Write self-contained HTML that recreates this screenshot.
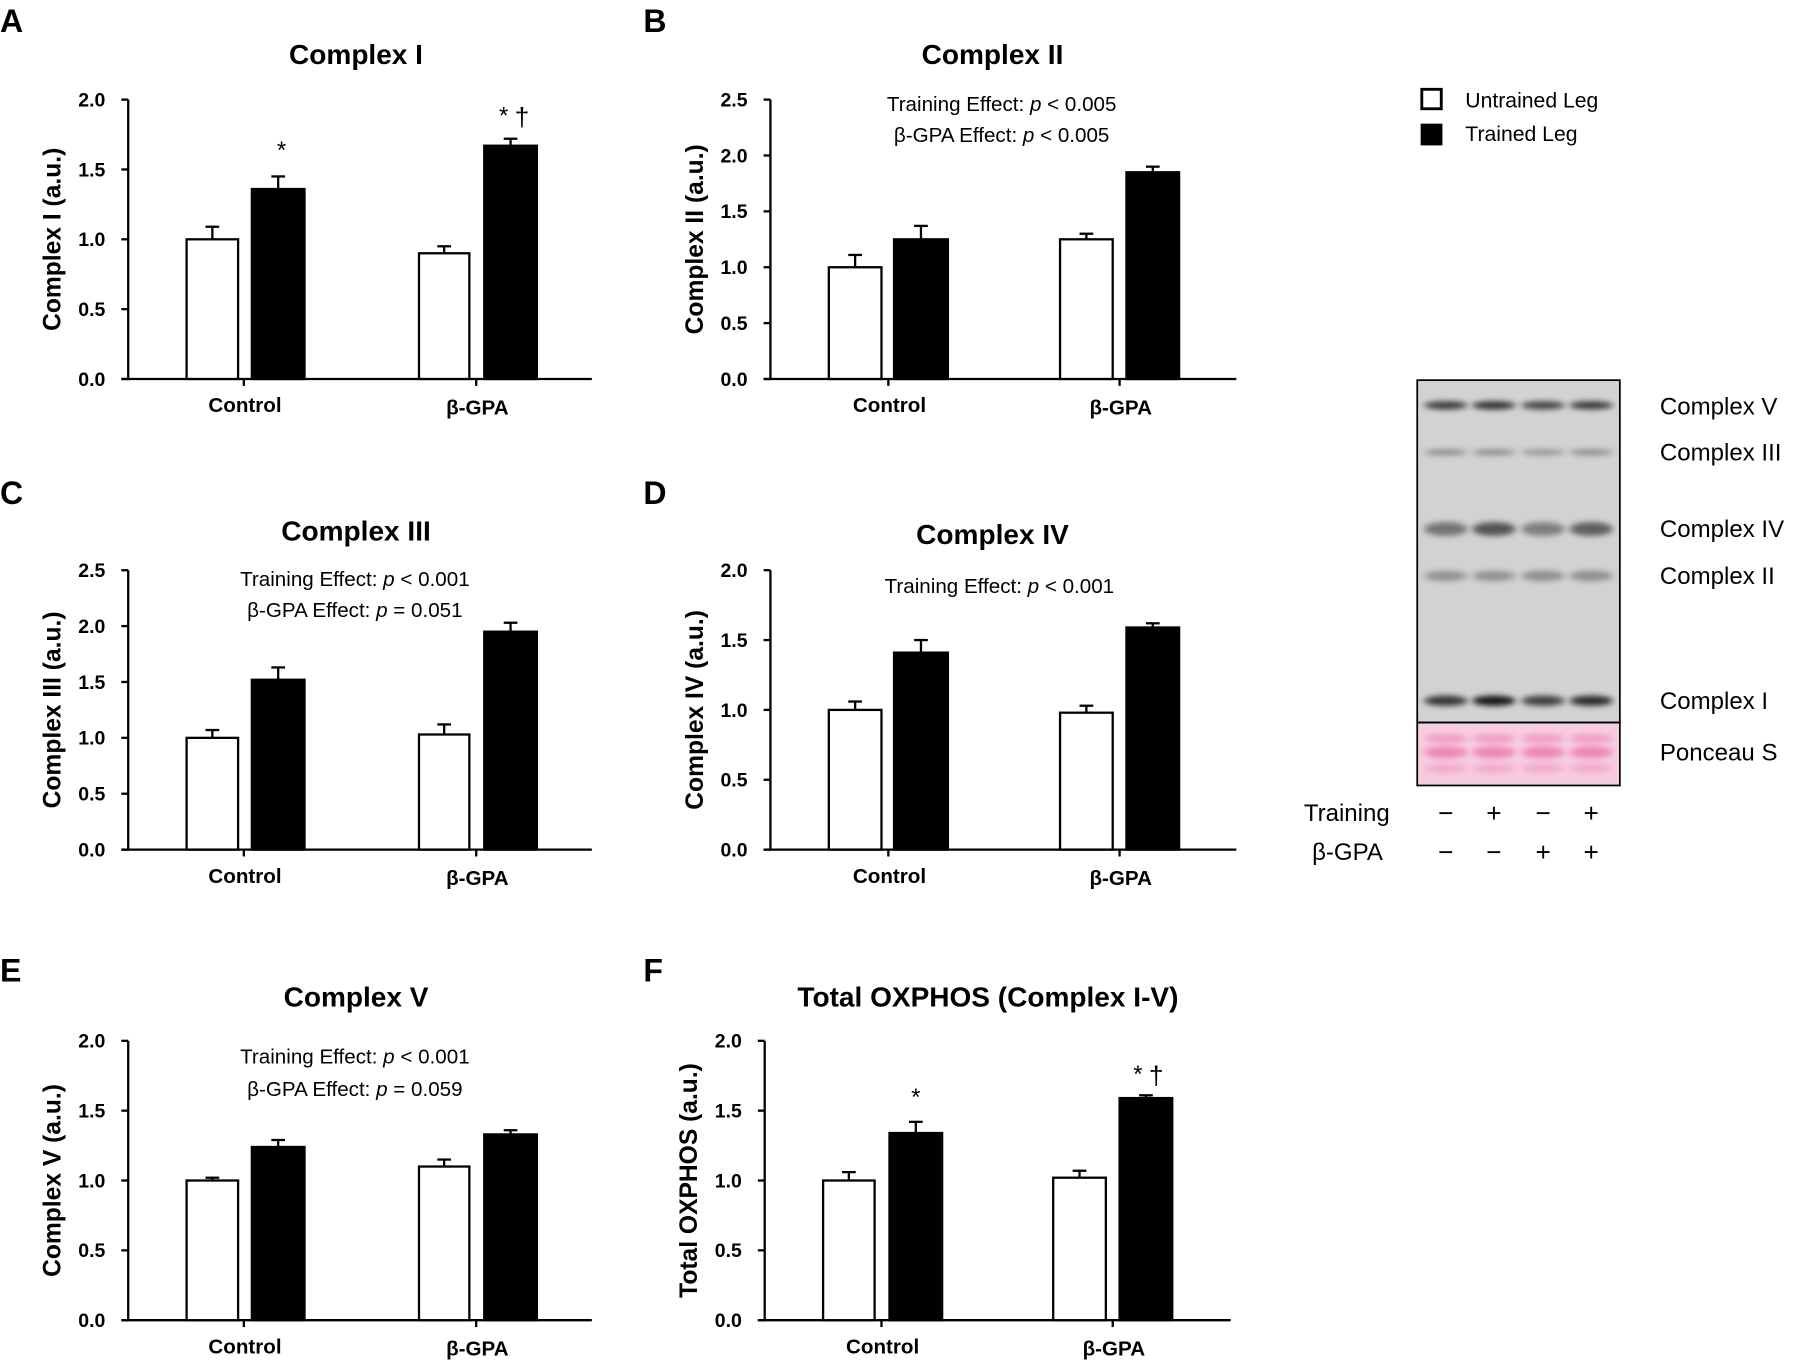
<!DOCTYPE html>
<html><head><meta charset="utf-8"><style>
html,body{margin:0;padding:0;background:#fff;}
svg{display:block;font-family:"Liberation Sans",Arial,sans-serif;}
</style></head><body>
<svg id="s" width="1795" height="1366" viewBox="0 0 1568 1193" preserveAspectRatio="none" xmlns="http://www.w3.org/2000/svg">
<defs>
<filter id="bl" x="-30%" y="-200%" width="160%" height="500%"><feGaussianBlur stdDeviation="3 2.5"/></filter>
</defs>
<rect width="1568" height="1193" fill="#fff"/>
</svg>
<script>
const S=document.getElementById('s');const NS='http://www.w3.org/2000/svg';
function el(t,a,txt){const e=document.createElementNS(NS,t);for(const k in a)e.setAttribute(k,a[k]);if(txt!==undefined)e.innerHTML=txt;S.appendChild(e);return e;}
const W='#fff',B='#000';
function panel(p){
 const {ax,top,bot,xend,max,step,title,tx,ty,ylab,bars,texts,stars,labY}=p;
 const y=v=>bot-(bot-top)*v/max;
 el('text',{x:tx,y:ty,'text-anchor':'middle','font-size':24.5,'font-weight':'bold'},title);
 el('line',{x1:ax,y1:top,x2:ax,y2:bot+1,stroke:'#000','stroke-width':2});
 el('line',{x1:ax-6,y1:bot,x2:xend,y2:bot,stroke:'#000','stroke-width':2});
 for(let v=0;v<=max+1e-9;v+=step){
  el('line',{x1:ax-6,y1:y(v),x2:ax,y2:y(v),stroke:'#000','stroke-width':2});
  el('text',{x:ax-20,y:y(v)+6,'text-anchor':'end','font-size':17,'font-weight':'bold'},v.toFixed(1));
 }
 el('text',{transform:`translate(${p.ylx},${(top+bot)/2}) rotate(-90)`,'text-anchor':'middle','font-size':21.5,'font-weight':'bold'},ylab);
 const cats=['Control','β-GPA'];
 bars.forEach(b=>{
  const [x0,x1,v,e,fill]=b;
  const cx=(x0+x1)/2;
  el('line',{x1:cx,y1:y(v),x2:cx,y2:y(e),stroke:'#000','stroke-width':2});
  el('line',{x1:cx-6,y1:y(e),x2:cx+6,y2:y(e),stroke:'#000','stroke-width':2});
  el('rect',{x:x0,y:y(v),width:x1-x0,height:bot-y(v),fill:fill,stroke:'#000','stroke-width':2});
 });
 p.ticks.forEach((t,i)=>{
  el('line',{x1:t,y1:bot,x2:t,y2:bot+6,stroke:'#000','stroke-width':2});
  el('text',{x:t+1,y:labY+(i?2:0),'text-anchor':'middle','font-size':18,'font-weight':'bold'},cats[i]);
 });
 (texts||[]).forEach(t=>el('text',{x:t[0],y:t[1],'text-anchor':'middle','font-size':18},t[2]));
 (stars||[]).forEach(t=>el('text',{x:t[0],y:t[1],'text-anchor':'middle','font-size':t[3]||21},t[2]));
}
const lx=[[163,208],[220,266],[366,410],[423,469]];
const rx=[[724,770],[781,828],[926,972],[984,1030]];
const fx=[[719,764],[777,823],[920,966],[978,1024]];
function mk(xs,vals){return xs.map((x,i)=>[x[0],x[1],vals[i][0],vals[i][1],i%2?B:W]);}
panel({ax:112,top:87,bot:331,xend:517,max:2,step:0.5,title:'Complex I',tx:311,ty:56,ylab:'Complex I (a.u.)',ylx:53,
 bars:mk(lx,[[1,1.09],[1.36,1.45],[0.9,0.95],[1.67,1.72]]),ticks:[213,416],labY:360,
 stars:[[246,138,'*'],[440,108,'*'],[456,110,'†',23]]});
panel({ax:673,top:87,bot:331,xend:1080,max:2.5,step:0.5,title:'Complex II',tx:867,ty:56,ylab:'Complex II (a.u.)',ylx:614,
 bars:mk(rx,[[1,1.11],[1.25,1.37],[1.25,1.30],[1.85,1.90]]),ticks:[776,978],labY:360,
 texts:[[875,97,'Training Effect: <tspan font-style="italic">p</tspan> &lt; 0.005'],[875,124,'β-GPA Effect: <tspan font-style="italic">p</tspan> &lt; 0.005']]});
panel({ax:112,top:498,bot:742,xend:517,max:2.5,step:0.5,title:'Complex III',tx:311,ty:472,ylab:'Complex III (a.u.)',ylx:53,
 bars:mk(lx,[[1,1.07],[1.52,1.63],[1.03,1.12],[1.95,2.03]]),ticks:[213,416],labY:771,
 texts:[[310,512,'Training Effect: <tspan font-style="italic">p</tspan> &lt; 0.001'],[310,539,'β-GPA Effect: <tspan font-style="italic">p</tspan> = 0.051']]});
panel({ax:673,top:498,bot:742,xend:1080,max:2,step:0.5,title:'Complex IV',tx:867,ty:475,ylab:'Complex IV (a.u.)',ylx:614,
 bars:mk(rx,[[1,1.06],[1.41,1.50],[0.98,1.03],[1.59,1.62]]),ticks:[776,978],labY:771,
 texts:[[873,518,'Training Effect: <tspan font-style="italic">p</tspan> &lt; 0.001']]});
panel({ax:112,top:909,bot:1153,xend:517,max:2,step:0.5,title:'Complex V',tx:311,ty:879,ylab:'Complex V (a.u.)',ylx:53,
 bars:mk(lx,[[1,1.02],[1.24,1.29],[1.10,1.15],[1.33,1.36]]),ticks:[213,416],labY:1182,
 texts:[[310,929,'Training Effect: <tspan font-style="italic">p</tspan> &lt; 0.001'],[310,957,'β-GPA Effect: <tspan font-style="italic">p</tspan> = 0.059']]});
panel({ax:668,top:909,bot:1153,xend:1075,max:2,step:0.5,title:'Total OXPHOS (Complex I-V)',tx:863,ty:879,ylab:'Total OXPHOS (a.u.)',ylx:609,
 bars:mk(fx,[[1,1.06],[1.34,1.42],[1.02,1.07],[1.59,1.61]]),ticks:[770,972],labY:1182,
 stars:[[800,965,'*'],[994,945,'*'],[1010,947,'†',23]]});
[['A',0,28],['B',562,28],['C',0,440],['D',562,440],['E',0,857],['F',562,857]].forEach(l=>el('text',{x:l[1],y:l[2],'font-size':28,'font-weight':'bold'},l[0]));
el('rect',{x:1242,y:78,width:17,height:17,fill:'#fff',stroke:'#000','stroke-width':2.5});
el('text',{x:1280,y:94,'font-size':18.5},'Untrained Leg');
el('rect',{x:1241,y:108,width:19,height:19,fill:'#000'});
el('text',{x:1280,y:123,'font-size':18.5},'Trained Leg');
// blot
el('rect',{x:1238,y:332,width:177,height:299,fill:'#d2d2d2'});
el('rect',{x:1238,y:631,width:177,height:55,fill:'#f6cde0'});
const lanes=[1263,1305,1348,1390];
const bands=[[354,5,[0.75,0.8,0.7,0.75]],[395,3,[0.35,0.35,0.3,0.35]],[462,10,[0.45,0.6,0.4,0.55]],[503,7,[0.3,0.3,0.32,0.32]],[612,7,[0.75,0.9,0.7,0.8]]];
bands.forEach(b=>lanes.forEach((c,i)=>el('ellipse',{cx:c,cy:b[0],rx:19,ry:b[1]/2+1,fill:'#000',opacity:b[2][i],filter:'url(#bl)'})));
[[645,4,0.4],[657,5,0.6],[671,4,0.3]].forEach(b=>lanes.forEach(c=>el('ellipse',{cx:c,cy:b[0],rx:19,ry:b[1],fill:'#e8559a',opacity:b[2],filter:'url(#bl)'})));
el('rect',{x:1238,y:332,width:177,height:299,fill:'none',stroke:'#000','stroke-width':1.5});
el('rect',{x:1238,y:631,width:177,height:55,fill:'none',stroke:'#000','stroke-width':1.5});
[['Complex V',362],['Complex III',402],['Complex IV',469],['Complex II',510],['Complex I',619],['Ponceau S',664]].forEach(t=>el('text',{x:1450,y:t[1],'font-size':21},t[0]));
el('text',{x:1214,y:717,'font-size':21,'text-anchor':'end'},'Training');
el('text',{x:1208,y:751,'font-size':21,'text-anchor':'end'},'β-GPA');
const tr=['−','+','−','+'],gp=['−','−','+','+'];
lanes.forEach((c,i)=>{el('text',{x:c,y:718,'font-size':23,'text-anchor':'middle'},tr[i]);el('text',{x:c,y:752,'font-size':23,'text-anchor':'middle'},gp[i]);});
</script>
</body></html>
